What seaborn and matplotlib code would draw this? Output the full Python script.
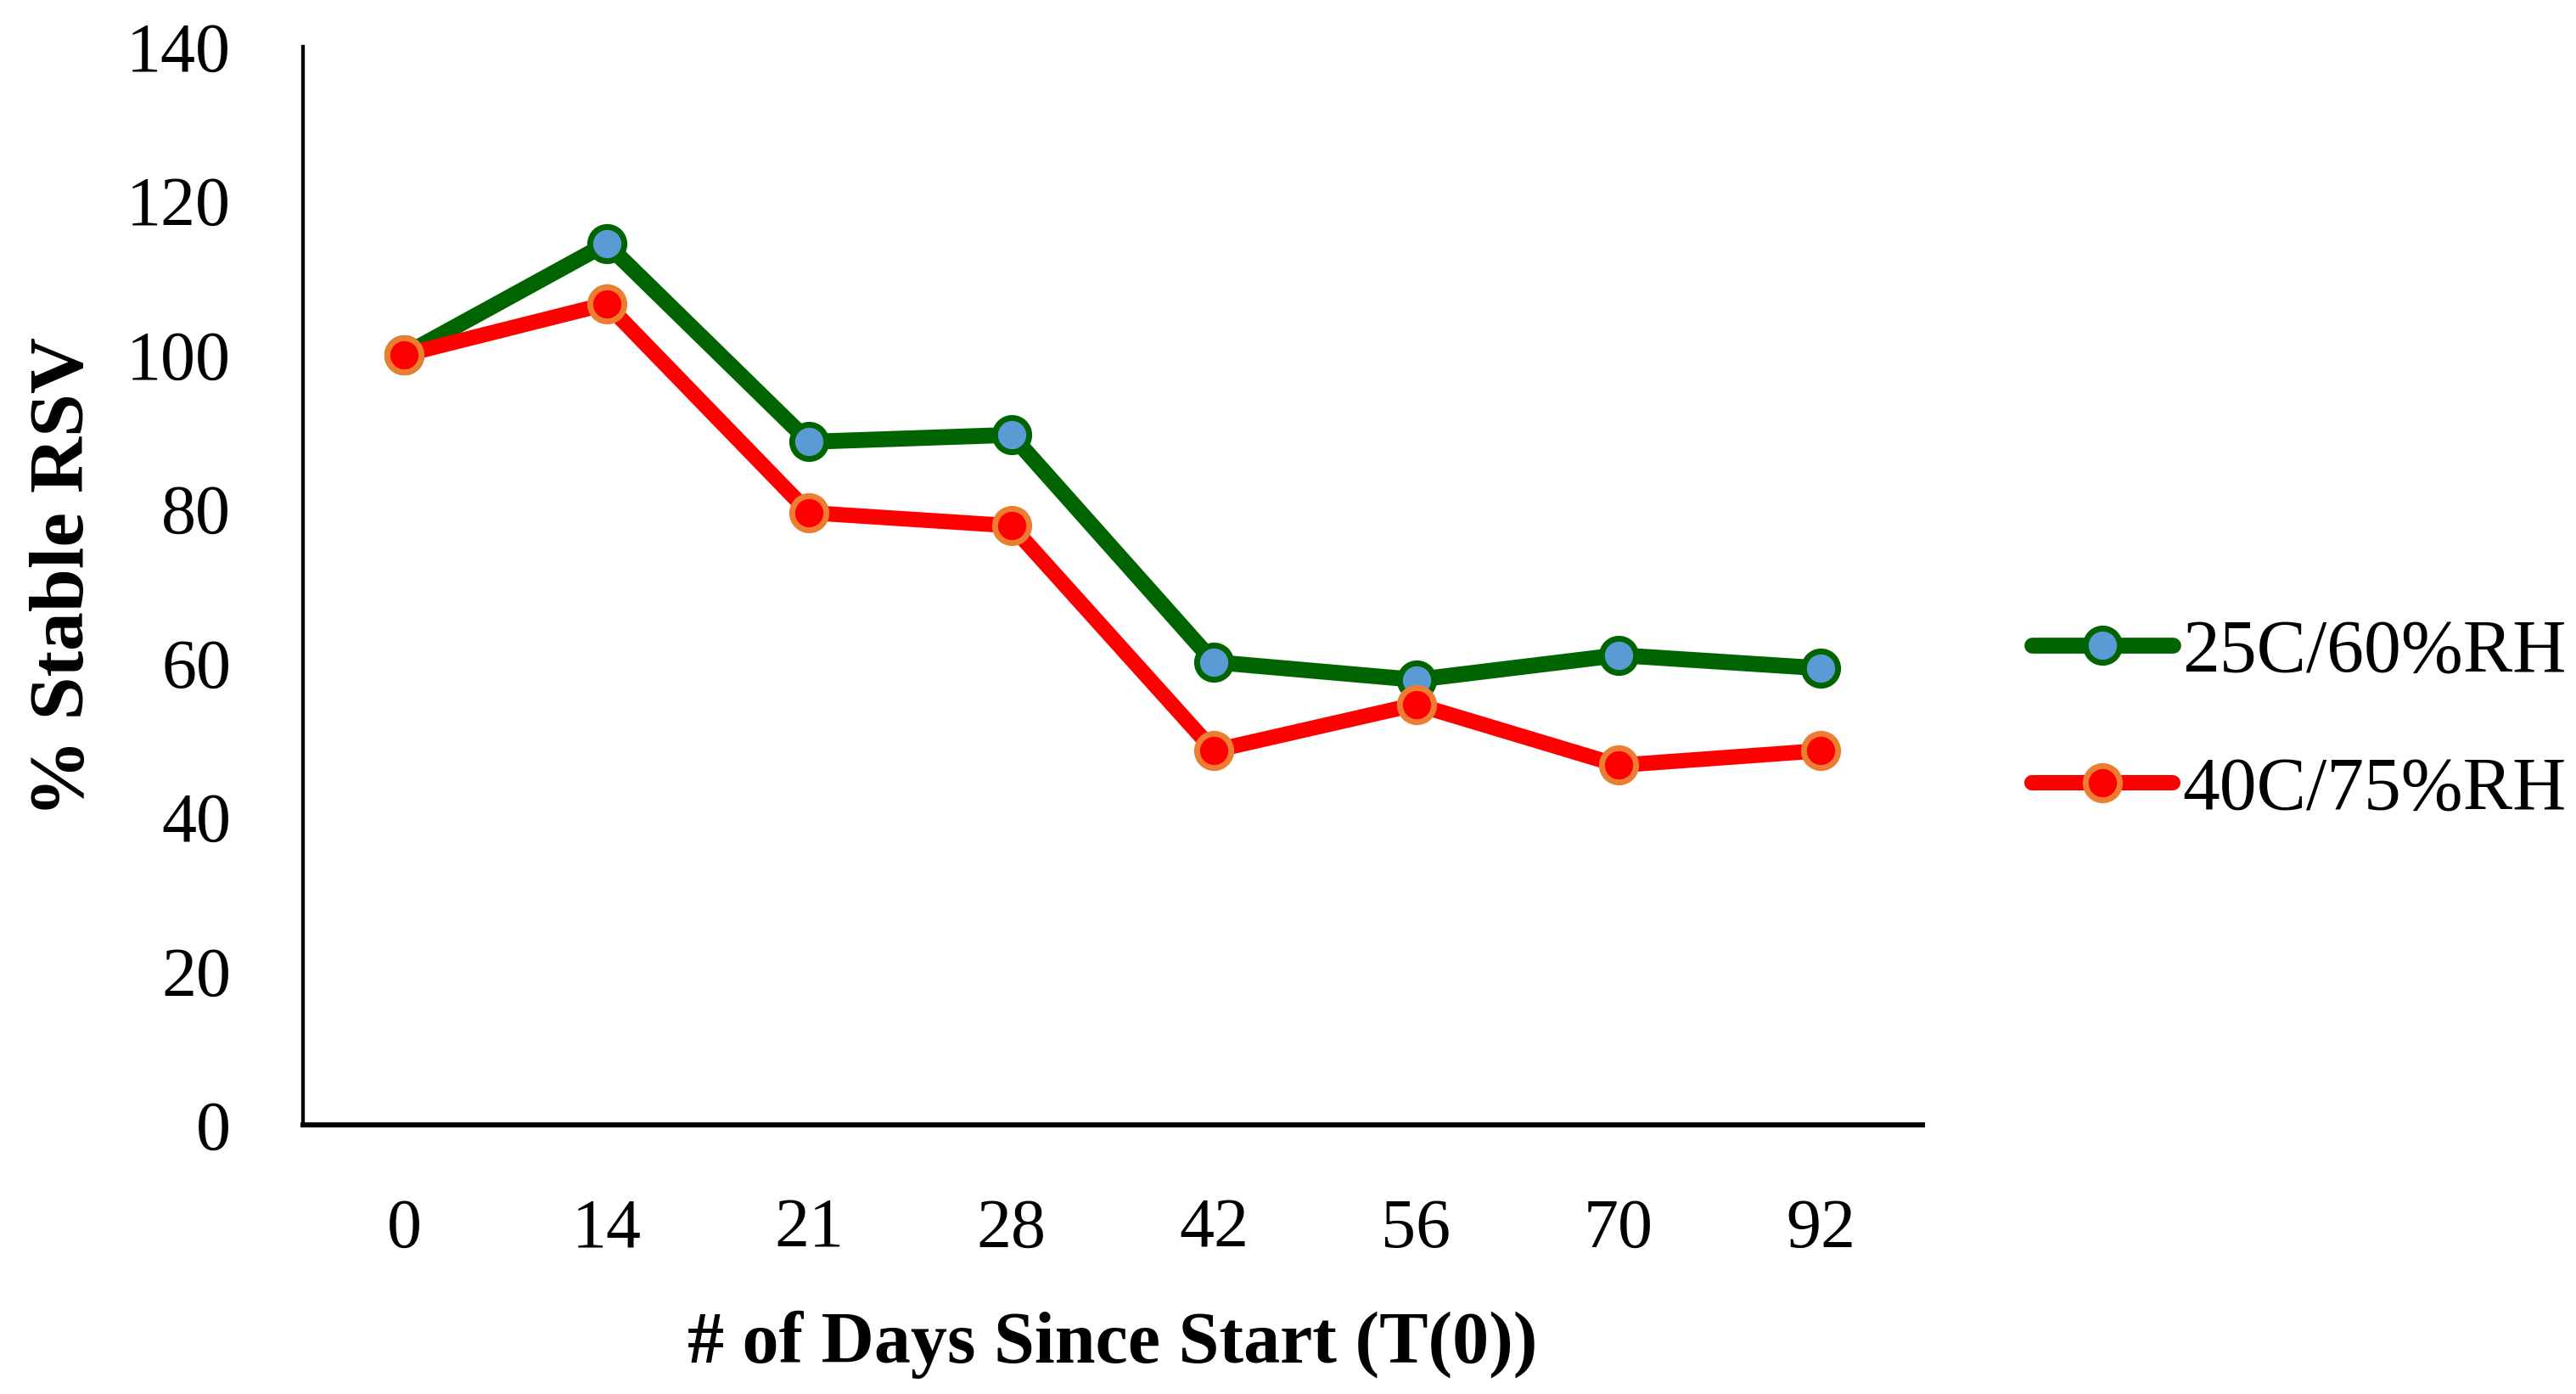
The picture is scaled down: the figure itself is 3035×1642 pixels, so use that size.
import pandas as pd
import matplotlib
matplotlib.use("Agg")
import matplotlib.pyplot as plt
import seaborn as sns

# datos
dias = ["0", "14", "21", "28", "42", "56", "70", "92"]
rsv_25c = [100, 114.4, 88.7, 89.6, 60.1, 57.8, 61.0, 59.3]
rsv_40c = [100, 106.6, 79.5, 77.8, 48.6, 54.6, 46.7, 48.6]
series = ["25C/60%RH", "40C/75%RH"]

sns.set_style("white")
plt.rcParams["font.family"] = ["Liberation Serif", "DejaVu Serif"]
plt.rcParams["text.color"] = "black"
plt.rcParams["xtick.color"] = "black"
plt.rcParams["ytick.color"] = "black"
plt.rcParams["axes.labelcolor"] = "black"

df25 = pd.DataFrame({"dia": dias, "rsv": rsv_25c})
df40 = pd.DataFrame({"dia": dias, "rsv": rsv_40c})

fig = plt.figure(figsize=(30.35, 16.42), dpi=100)
ax = fig.add_axes([0.1176, 0.193, 0.6286, 0.7735])

sns.lineplot(x="dia", y="rsv", data=df25, ax=ax, sort=False, label=series[0],
             color="#006400", lw=13.5, marker="o", ms=29,
             mfc="#5B9BD5", mec="#006400", mew=5)
sns.lineplot(x="dia", y="rsv", data=df40, ax=ax, sort=False, label=series[1],
             color="#FF0000", lw=13, marker="o", ms=29,
             mfc="#FF0000", mec="#ED7D31", mew=5)

ax.set_xlim(-0.5, len(dias) - 0.5)
ax.set_ylim(0, 140)
ax.set_yticks(range(0, 141, 20))

fs_tick = 59
fs_lab = 62
fs_leg = 63
ax.tick_params(axis="both", length=0, labelsize=fs_tick, colors="black")
ax.tick_params(axis="y", pad=61)
ax.tick_params(axis="x", pad=62)

for s in ["top", "right"]:
    ax.spines[s].set_visible(False)
ax.spines["left"].set_linewidth(3.1)
ax.spines["bottom"].set_linewidth(4.3)
ax.spines["left"].set_color("black")
ax.spines["bottom"].set_color("black")

ax.set_xlabel("# of Days Since Start (T(0))", fontsize=fs_lab, fontweight="bold",
              va="center")
ax.set_ylabel("% Stable RSV", fontsize=66, fontweight="bold", va="center")
ax.xaxis.set_label_coords(0.5, -0.204)
ax.yaxis.set_label_coords(-0.147, 0.508)

ax.legend(loc="center left", bbox_to_anchor=(1.068, 0.374), frameon=False,
          fontsize=fs_leg, handlelength=1.89, handletextpad=0.13,
          labelspacing=0.93, borderpad=0, borderaxespad=0, numpoints=1)

fig.savefig("out.png", dpi=100)
